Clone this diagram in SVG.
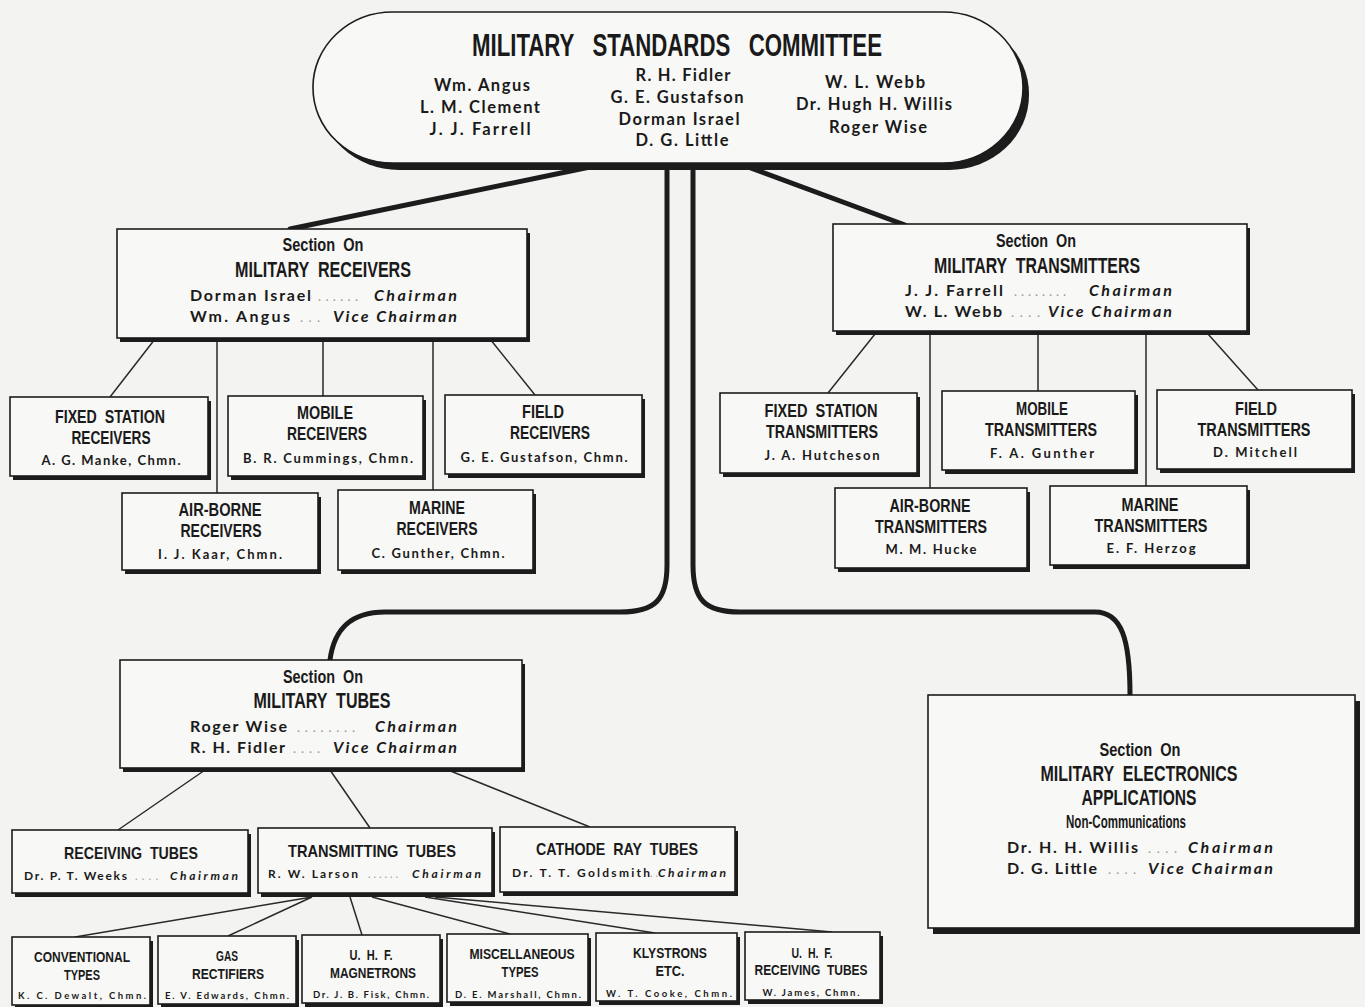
<svg xmlns="http://www.w3.org/2000/svg" width="1365" height="1007" viewBox="0 0 1365 1007">
<style>
.bg{fill:#f3f3f1}
.bx{fill:#f8f8f6;stroke:#1c1c1c;stroke-width:1.6}
.sh{fill:#1c1c1c}
.thick{fill:none;stroke:#1c1c1c;stroke-width:5;stroke-linecap:round}
.thin{fill:none;stroke:#2a2a2a;stroke-width:1.5}
.h{font-family:"Liberation Sans",Arial,sans-serif;font-weight:bold;fill:#1a1a1a;text-anchor:middle}
.n{font-family:Lato,"Noto Sans",sans-serif;font-weight:700;fill:#1a1a1a;text-anchor:middle}
.l{text-anchor:start}
.r{text-anchor:end;font-style:italic}
.d{font-family:Lato,"Noto Sans",sans-serif;fill:#9a9a9a;text-anchor:start}
</style>
<rect class="bg" x="0" y="0" width="1365" height="1007"/>

<g id="connectors">
  <path class="thick" d="M590,167 L290,229"/>
  <path class="thick" d="M748,167 L905,225"/>
  <path class="thick" d="M667,165 V565 C667,600 655,612 620,612 H385 C350,612 334,630 330,660"/>
  <path class="thick" d="M693,165 V565 C693,600 705,612 740,612 H1095 C1122,612 1130,640 1130,695"/>
  <path class="thin" d="M155,339 L110,397 M217,339 L217,493 M323,339 L323,396 M433,339 L433,490 M490,339 L535,395"/>
  <path class="thin" d="M875,334 L828,393 M930,334 L930,488 M1038,334 L1038,391 M1146,334 L1146,486 M1208,334 L1258,390"/>
  <path class="thin" d="M205,770 L118,830 M330,770 L370,828 M448,770 L590,827"/>
  <path class="thin" d="M312,897 L75,937 M312,897 L228,936 M350,897 L362,935 M372,897 L510,934 M425,897 L655,933 M435,897 L832,932"/>
</g>

<g id="committee">
  <rect class="sh" x="319" y="19" width="710" height="151" rx="80" ry="75"/>
  <rect class="bx" x="313" y="12" width="710" height="151" rx="80" ry="75"/>
  <text class="h" x="677" y="56" font-size="31" textLength="410" lengthAdjust="spacingAndGlyphs" xml:space="preserve">MILITARY   STANDARDS   COMMITTEE</text>
  <g class="n" font-size="16.5">
    <text x="482" y="91" textLength="96">Wm. Angus</text>
    <text x="480" y="113" textLength="120">L. M. Clement</text>
    <text x="480" y="135" textLength="101">J. J. Farrell</text>
    <text x="683" y="81" textLength="95">R. H. Fidler</text>
    <text x="677" y="103" textLength="133">G. E. Gustafson</text>
    <text x="679" y="125" textLength="121">Dorman Israel</text>
    <text x="682" y="146" textLength="93">D. G. Little</text>
    <text x="875" y="88" textLength="100">W. L. Webb</text>
    <text x="874" y="110" textLength="156">Dr. Hugh H. Willis</text>
    <text x="878" y="133" textLength="98">Roger Wise</text>
  </g>
</g>

<g id="sec-receivers">
  <rect class="sh" x="120" y="233" width="410" height="109"/>
  <rect class="bx" x="117" y="229" width="410" height="109"/>
  <text class="h" x="323" y="251" font-size="19" textLength="81" lengthAdjust="spacingAndGlyphs" xml:space="preserve">Section  On</text>
  <text class="h" x="323" y="277" font-size="22" textLength="176" lengthAdjust="spacingAndGlyphs" xml:space="preserve">MILITARY  RECEIVERS</text>
  <text class="n l" x="190" y="301" font-size="16" textLength="121">Dorman Israel</text>
  <text class="d" x="318" y="301" font-size="13" textLength="40">......</text>
  <text class="n r" x="457" y="301" font-size="16" textLength="83">Chairman</text>
  <text class="n l" x="190" y="322" font-size="16" textLength="100">Wm. Angus</text>
  <text class="d" x="300" y="322" font-size="13" textLength="20">...</text>
  <text class="n r" x="457" y="322" font-size="16" textLength="124">Vice Chairman</text>
</g>

<g id="rcv-fixed">
  <rect class="sh" x="13" y="401" width="198" height="79"/>
  <rect class="bx" x="10" y="397" width="198" height="79"/>
  <text class="h" x="110" y="423" font-size="18.5" textLength="110" lengthAdjust="spacingAndGlyphs" xml:space="preserve">FIXED  STATION</text>
  <text class="h" x="111" y="444" font-size="18.5" textLength="79" lengthAdjust="spacingAndGlyphs">RECEIVERS</text>
  <text class="n" x="111" y="465" font-size="13" textLength="139">A. G. Manke, Chmn.</text>
</g>
<g id="rcv-mobile">
  <rect class="sh" x="231" y="400" width="195" height="80"/>
  <rect class="bx" x="228" y="396" width="195" height="80"/>
  <text class="h" x="325" y="419" font-size="18.5" textLength="56" lengthAdjust="spacingAndGlyphs">MOBILE</text>
  <text class="h" x="327" y="440" font-size="18.5" textLength="80" lengthAdjust="spacingAndGlyphs">RECEIVERS</text>
  <text class="n" x="328" y="463" font-size="13" textLength="170">B. R. Cummings, Chmn.</text>
</g>
<g id="rcv-field">
  <rect class="sh" x="448" y="399" width="197" height="79"/>
  <rect class="bx" x="445" y="395" width="197" height="79"/>
  <text class="h" x="543" y="418" font-size="18.5" textLength="42" lengthAdjust="spacingAndGlyphs">FIELD</text>
  <text class="h" x="550" y="439" font-size="18.5" textLength="80" lengthAdjust="spacingAndGlyphs">RECEIVERS</text>
  <text class="n" x="544" y="462" font-size="13" textLength="167">G. E. Gustafson, Chmn.</text>
</g>
<g id="rcv-airborne">
  <rect class="sh" x="125" y="497" width="196" height="77"/>
  <rect class="bx" x="122" y="493" width="196" height="77"/>
  <text class="h" x="220" y="516" font-size="18.5" textLength="83" lengthAdjust="spacingAndGlyphs">AIR-BORNE</text>
  <text class="h" x="221" y="537" font-size="18.5" textLength="81" lengthAdjust="spacingAndGlyphs">RECEIVERS</text>
  <text class="n" x="220" y="559" font-size="13" textLength="124">I. J. Kaar, Chmn.</text>
</g>
<g id="rcv-marine">
  <rect class="sh" x="341" y="494" width="195" height="80"/>
  <rect class="bx" x="338" y="490" width="195" height="80"/>
  <text class="h" x="437" y="514" font-size="18.5" textLength="56" lengthAdjust="spacingAndGlyphs">MARINE</text>
  <text class="h" x="437" y="535" font-size="18.5" textLength="81" lengthAdjust="spacingAndGlyphs">RECEIVERS</text>
  <text class="n" x="438" y="558" font-size="13" textLength="133">C. Gunther, Chmn.</text>
</g>

<g id="sec-transmitters">
  <rect class="sh" x="836" y="228" width="414" height="107"/>
  <rect class="bx" x="833" y="224" width="414" height="107"/>
  <text class="h" x="1036" y="247" font-size="19" textLength="80" lengthAdjust="spacingAndGlyphs" xml:space="preserve">Section  On</text>
  <text class="h" x="1037" y="273" font-size="22" textLength="206" lengthAdjust="spacingAndGlyphs" xml:space="preserve">MILITARY  TRANSMITTERS</text>
  <text class="n l" x="905" y="296" font-size="16" textLength="98">J. J. Farrell</text>
  <text class="d" x="1014" y="296" font-size="13" textLength="52">........</text>
  <text class="n r" x="1172" y="296" font-size="16" textLength="83">Chairman</text>
  <text class="n l" x="905" y="317" font-size="16" textLength="97">W. L. Webb</text>
  <text class="d" x="1011" y="317" font-size="13" textLength="29">....</text>
  <text class="n r" x="1172" y="317" font-size="16" textLength="124">Vice Chairman</text>
</g>

<g id="tx-fixed">
  <rect class="sh" x="723" y="397" width="197" height="80"/>
  <rect class="bx" x="720" y="393" width="197" height="80"/>
  <text class="h" x="821" y="417" font-size="18.5" textLength="113" lengthAdjust="spacingAndGlyphs" xml:space="preserve">FIXED  STATION</text>
  <text class="h" x="822" y="438" font-size="18.5" textLength="112" lengthAdjust="spacingAndGlyphs">TRANSMITTERS</text>
  <text class="n" x="822" y="460" font-size="13" textLength="115">J. A. Hutcheson</text>
</g>
<g id="tx-mobile">
  <rect class="sh" x="945" y="395" width="193" height="79"/>
  <rect class="bx" x="942" y="391" width="193" height="79"/>
  <text class="h" x="1042" y="415" font-size="18.5" textLength="52" lengthAdjust="spacingAndGlyphs">MOBILE</text>
  <text class="h" x="1041" y="436" font-size="18.5" textLength="112" lengthAdjust="spacingAndGlyphs">TRANSMITTERS</text>
  <text class="n" x="1042" y="458" font-size="13" textLength="104">F. A. Gunther</text>
</g>
<g id="tx-field">
  <rect class="sh" x="1160" y="394" width="195" height="79"/>
  <rect class="bx" x="1157" y="390" width="195" height="79"/>
  <text class="h" x="1256" y="415" font-size="18.5" textLength="42" lengthAdjust="spacingAndGlyphs">FIELD</text>
  <text class="h" x="1254" y="436" font-size="18.5" textLength="113" lengthAdjust="spacingAndGlyphs">TRANSMITTERS</text>
  <text class="n" x="1255" y="457" font-size="13" textLength="84">D. Mitchell</text>
</g>
<g id="tx-airborne">
  <rect class="sh" x="838" y="492" width="192" height="80"/>
  <rect class="bx" x="835" y="488" width="192" height="80"/>
  <text class="h" x="930" y="512" font-size="18.5" textLength="81" lengthAdjust="spacingAndGlyphs">AIR-BORNE</text>
  <text class="h" x="931" y="533" font-size="18.5" textLength="112" lengthAdjust="spacingAndGlyphs">TRANSMITTERS</text>
  <text class="n" x="931" y="554" font-size="13" textLength="91">M. M. Hucke</text>
</g>
<g id="tx-marine">
  <rect class="sh" x="1053" y="490" width="197" height="79"/>
  <rect class="bx" x="1050" y="486" width="197" height="79"/>
  <text class="h" x="1150" y="511" font-size="18.5" textLength="57" lengthAdjust="spacingAndGlyphs">MARINE</text>
  <text class="h" x="1151" y="532" font-size="18.5" textLength="113" lengthAdjust="spacingAndGlyphs">TRANSMITTERS</text>
  <text class="n" x="1151" y="553" font-size="13" textLength="89">E. F. Herzog</text>
</g>

<g id="sec-tubes">
  <rect class="sh" x="123" y="664" width="402" height="108"/>
  <rect class="bx" x="120" y="660" width="402" height="108"/>
  <text class="h" x="323" y="683" font-size="19" textLength="80" lengthAdjust="spacingAndGlyphs" xml:space="preserve">Section  On</text>
  <text class="h" x="322" y="708" font-size="22" textLength="137" lengthAdjust="spacingAndGlyphs" xml:space="preserve">MILITARY  TUBES</text>
  <text class="n l" x="190" y="732" font-size="16" textLength="97">Roger Wise</text>
  <text class="d" x="297" y="732" font-size="13" textLength="58">........</text>
  <text class="n r" x="457" y="732" font-size="16" textLength="82">Chairman</text>
  <text class="n l" x="190" y="753" font-size="16" textLength="95">R. H. Fidler</text>
  <text class="d" x="293" y="753" font-size="13" textLength="27">....</text>
  <text class="n r" x="457" y="753" font-size="16" textLength="124">Vice Chairman</text>
</g>

<g id="tube-receiving">
  <rect class="sh" x="15" y="834" width="236" height="63"/>
  <rect class="bx" x="12" y="830" width="236" height="63"/>
  <text class="h" x="131" y="859" font-size="17" textLength="134" lengthAdjust="spacingAndGlyphs" xml:space="preserve">RECEIVING  TUBES</text>
  <text class="n l" x="24" y="880" font-size="12" textLength="103">Dr. P. T. Weeks</text>
  <text class="d" x="135" y="880" font-size="11" textLength="23">....</text>
  <text class="n r" x="238" y="880" font-size="12" textLength="68">Chairman</text>
</g>
<g id="tube-transmitting">
  <rect class="sh" x="261" y="832" width="234" height="65"/>
  <rect class="bx" x="258" y="828" width="234" height="65"/>
  <text class="h" x="372" y="857" font-size="17" textLength="168" lengthAdjust="spacingAndGlyphs" xml:space="preserve">TRANSMITTING  TUBES</text>
  <text class="n l" x="268" y="878" font-size="12" textLength="90">R. W. Larson</text>
  <text class="d" x="368" y="878" font-size="11" textLength="30">......</text>
  <text class="n r" x="481" y="878" font-size="12" textLength="69">Chairman</text>
</g>
<g id="tube-cathode">
  <rect class="sh" x="503" y="831" width="235" height="65"/>
  <rect class="bx" x="500" y="827" width="235" height="65"/>
  <text class="h" x="617" y="855" font-size="17" textLength="162" lengthAdjust="spacingAndGlyphs" xml:space="preserve">CATHODE  RAY  TUBES</text>
  <text class="n l" x="512" y="877" font-size="12" textLength="138">Dr. T. T. Goldsmith</text>
  <text class="d" x="650" y="877" font-size="11" textLength="8">. .</text>
  <text class="n r" x="726" y="877" font-size="12" textLength="68">Chairman</text>
</g>

<g id="tt-conventional">
  <rect class="sh" x="15" y="941" width="138" height="68"/>
  <rect class="bx" x="12" y="937" width="138" height="68"/>
  <text class="h" x="82" y="962" font-size="14.5" textLength="96" lengthAdjust="spacingAndGlyphs">CONVENTIONAL</text>
  <text class="h" x="82" y="980" font-size="14.5" textLength="36" lengthAdjust="spacingAndGlyphs">TYPES</text>
  <text class="n" x="82" y="999" font-size="9.5" textLength="128">K. C. Dewalt, Chmn.</text>
</g>
<g id="tt-gas">
  <rect class="sh" x="161" y="940" width="138" height="68"/>
  <rect class="bx" x="158" y="936" width="138" height="68"/>
  <text class="h" x="227" y="961" font-size="14.5" textLength="22" lengthAdjust="spacingAndGlyphs">GAS</text>
  <text class="h" x="228" y="979" font-size="14.5" textLength="72" lengthAdjust="spacingAndGlyphs">RECTIFIERS</text>
  <text class="n" x="227" y="999" font-size="9.5" textLength="124">E. V. Edwards, Chmn.</text>
</g>
<g id="tt-magnetrons">
  <rect class="sh" x="305" y="939" width="138" height="68"/>
  <rect class="bx" x="302" y="935" width="138" height="68"/>
  <text class="h" x="371" y="960" font-size="14.5" textLength="43" lengthAdjust="spacingAndGlyphs" xml:space="preserve">U.  H.  F.</text>
  <text class="h" x="373" y="978" font-size="14.5" textLength="86" lengthAdjust="spacingAndGlyphs">MAGNETRONS</text>
  <text class="n" x="371" y="998" font-size="9.5" textLength="116">Dr. J. B. Fisk, Chmn.</text>
</g>
<g id="tt-misc">
  <rect class="sh" x="450" y="938" width="141" height="68"/>
  <rect class="bx" x="447" y="934" width="141" height="68"/>
  <text class="h" x="522" y="959" font-size="14.5" textLength="105" lengthAdjust="spacingAndGlyphs">MISCELLANEOUS</text>
  <text class="h" x="520" y="977" font-size="14.5" textLength="37" lengthAdjust="spacingAndGlyphs">TYPES</text>
  <text class="n" x="518" y="998" font-size="9.5" textLength="126">D. E. Marshall, Chmn.</text>
</g>
<g id="tt-klystrons">
  <rect class="sh" x="599" y="937" width="141" height="68"/>
  <rect class="bx" x="596" y="933" width="141" height="68"/>
  <text class="h" x="670" y="958" font-size="14.5" textLength="74" lengthAdjust="spacingAndGlyphs">KLYSTRONS</text>
  <text class="h" x="670" y="976" font-size="14.5" textLength="29" lengthAdjust="spacingAndGlyphs">ETC.</text>
  <text class="n" x="669" y="997" font-size="9.5" textLength="126">W. T. Cooke, Chmn.</text>
</g>
<g id="tt-uhf-receiving">
  <rect class="sh" x="748" y="936" width="135" height="68"/>
  <rect class="bx" x="745" y="932" width="135" height="68"/>
  <text class="h" x="812" y="958" font-size="14.5" textLength="41" lengthAdjust="spacingAndGlyphs" xml:space="preserve">U.  H.  F.</text>
  <text class="h" x="811" y="975" font-size="14.5" textLength="113" lengthAdjust="spacingAndGlyphs" xml:space="preserve">RECEIVING  TUBES</text>
  <text class="n" x="811" y="996" font-size="9.5" textLength="97">W. James, Chmn.</text>
</g>

<g id="sec-electronics">
  <rect class="sh" x="933" y="701" width="427" height="233"/>
  <rect class="bx" x="928" y="695" width="427" height="233"/>
  <text class="h" x="1140" y="756" font-size="19" textLength="81" lengthAdjust="spacingAndGlyphs" xml:space="preserve">Section  On</text>
  <text class="h" x="1139" y="781" font-size="22" textLength="197" lengthAdjust="spacingAndGlyphs" xml:space="preserve">MILITARY  ELECTRONICS</text>
  <text class="h" x="1139" y="805" font-size="22" textLength="115" lengthAdjust="spacingAndGlyphs">APPLICATIONS</text>
  <text class="h" x="1126" y="828" font-size="19" textLength="120" lengthAdjust="spacingAndGlyphs">Non-Communications</text>
  <text class="n l" x="1007" y="853" font-size="16" textLength="131">Dr. H. H. Willis</text>
  <text class="d" x="1148" y="853" font-size="13" textLength="29">....</text>
  <text class="n r" x="1273" y="853" font-size="16" textLength="85">Chairman</text>
  <text class="n l" x="1007" y="874" font-size="16" textLength="90">D. G. Little</text>
  <text class="d" x="1108" y="874" font-size="13" textLength="28">....</text>
  <text class="n r" x="1273" y="874" font-size="16" textLength="125">Vice Chairman</text>
</g>
</svg>
